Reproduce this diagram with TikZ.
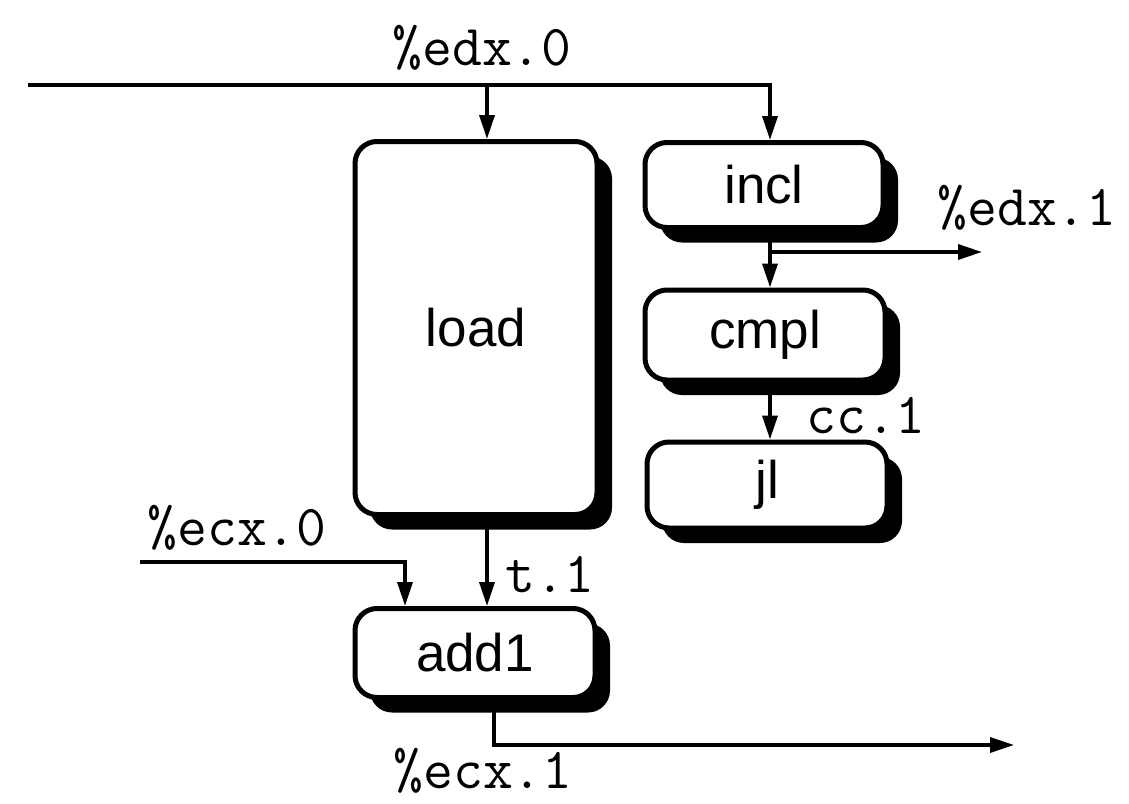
\documentclass[tikz,border=0pt]{standalone}
\usepackage{fontspec}
\newfontfamily\boxfont{Liberation Sans}
\usetikzlibrary{arrows.meta,shadows}
\begin{document}
\begin{tikzpicture}[x=1pt,y=-1pt]
\tikzset{
 op/.style={draw, line width=5pt, rounded corners=22pt, fill=white, inner sep=0pt,
   font=\boxfont\fontsize{53}{60}\selectfont,
   drop shadow={shadow xshift=15pt, shadow yshift=-15pt, opacity=1, fill=black}},
 lab/.style={font=\ttfamily\fontsize{58}{64}\selectfont, inner sep=0pt},
 wire/.style={line width=3.5pt},
 arr/.style={wire, -{Triangle[length=24pt,width=15pt]}},
}
\useasboundingbox (0,0) rectangle (1129,803);
% boxes
\node[op, minimum width=242pt, minimum height=373pt] (load) at (476,328) {load};
\node[op, minimum width=238pt, minimum height=85pt] (incl) at (764,185) {incl};
\node[op, minimum width=240pt, minimum height=90pt] (cmpl) at (765,335) {cmpl};
\node[op, minimum width=240pt, minimum height=86pt] (jl) at (767,485) {jl};
\node[op, minimum width=240pt, minimum height=89pt] (add1) at (475,653) {add1};
% helper coordinates
\coordinate (edxin) at (28,85);
\coordinate (xA) at (487,0);
\coordinate (xR) at (770,0);
\coordinate (xE) at (405,0);
\coordinate (xO) at (494,0);
\coordinate (edxout) at (982,252);
\coordinate (ecxin) at (140,562);
\coordinate (ecxout) at (1014,745);
% connectors
\draw[arr] (edxin) -| (incl.north -| xR);
\draw[arr] (edxin -| xA) -- (load.north -| xA);
\draw[arr] (incl.south -| xR) -- (cmpl.north -| xR);
\draw[arr] (edxout -| xR) -- (edxout);
\draw[arr] (cmpl.south -| xR) -- (jl.north -| xR);
\draw[arr] (ecxin) -| (add1.north -| xE);
\draw[arr] (load.south -| xA) -- (add1.north -| xA);
\draw[arr] (add1.south -| xO) |- (ecxout);
% labels
\node[lab] (l1) at (482,48) {\%edx.0};
\node[lab] (l2) at (1027,208) {\%edx.1};
\node[lab] (l3) at (866,416) {cc.1};
\node[lab] (l4) at (550,575) {t.1};
\node[lab] (l5) at (237,528) {\%ecx.0};
\node[lab] (l6) at (483,771) {\%ecx.1};
\end{tikzpicture}
\end{document}
